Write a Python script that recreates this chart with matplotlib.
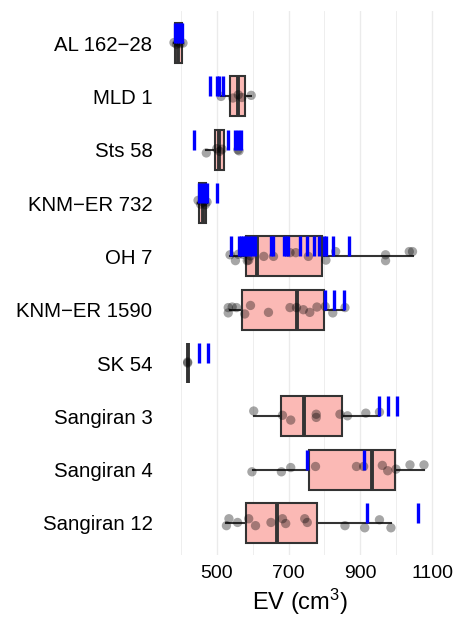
import matplotlib
matplotlib.use("Agg")
import matplotlib.pyplot as plt

plt.rcParams["font.family"] = ["Liberation Sans", "DejaVu Sans"]
plt.rcParams["mathtext.default"] = "regular"

names = ["AL 162\u221228", "MLD 1", "Sts 58", "KNM\u2212ER 732", "OH 7",
         "KNM\u2212ER 1590", "SK 54", "Sangiran 3", "Sangiran 4", "Sangiran 12"]

# box statistics
q1 = [384, 537, 494, 450, 581, 570, 419, 680, 758, 581]
med = [393, 558, 505, 461, 613, 724, 419, 743, 932, 668]
q3 = [404, 578, 521, 471, 793, 800, 419, 848, 997, 779]
whis_lo = [381, 512, 471, 448, 537, 537, 419, 603, 601, 527]
whis_hi = [406, 596, 521, 473, 1047, 853, 419, 951, 1077, 985]

# jittered sample points (value, vertical offset in rows)
pts_val = [
    [381, 388, 393, 398, 406],
    [512, 545, 560, 570, 596],
    [471, 500, 508, 515, 559, 562],
    [448, 455, 462, 468, 473],
    [537, 552, 560, 573, 585, 589, 594, 631, 658, 704, 720, 755, 804, 831,
     970, 970, 1036, 1045],
    [532, 532, 543, 555, 578, 594, 644, 704, 722, 741, 759, 779, 802, 823, 857],
    [419, 419],
    [603, 683, 706, 777, 777, 843, 864, 915, 953],
    [598, 680, 706, 775, 889, 909, 961, 976, 999, 1038, 1077],
    [527, 534, 558, 589, 608, 651, 683, 692, 745, 752, 857, 912, 953, 985],
]
pts_off = [
    [-0.01, 0.02, -0.02, 0.01, 0.0],
    [0.0, 0.03, -0.03, 0.02, -0.02],
    [0.06, -0.02, 0.03, -0.01, 0.0, 0.02],
    [-0.05, 0.02, -0.02, 0.03, -0.02],
    [-0.03, 0.08, -0.04, -0.04, 0.08, 0.07, -0.01, 0.0, 0.0, -0.07, -0.07,
     0.0, 0.07, -0.09, -0.03, 0.08, -0.09, -0.09],
    [-0.04, 0.06, -0.05, -0.04, 0.08, -0.08, 0.05, -0.04, -0.04, 0.0, 0.05,
     -0.05, -0.06, 0.06, -0.04],
    [-0.02, 0.0],
    [-0.10, -0.02, 0.07, -0.04, 0.02, -0.04, -0.01, -0.06, -0.08],
    [0.04, 0.04, -0.04, -0.06, -0.06, -0.06, -0.08, 0.02, -0.01, -0.09, -0.09],
    [0.05, -0.08, -0.01, -0.08, 0.05, -0.01, -0.08, 0.01, -0.08, -0.01, 0.05,
     0.09, -0.06, 0.09],
]

# published estimates (blue ticks)
blue_vals = [
    [385, 390, 395, 400, 404],
    [480, 500, 507, 518],
    [438, 532, 551, 559, 567],
    [452, 460, 467, 474, 502],
    [539, 561, 567, 572, 578, 585, 592, 598, 607, 651, 656, 686, 692, 699,
     732, 752, 772, 784, 798, 805, 825, 869],
    [802, 827, 853],
    [451, 476],
    [951, 976, 1001],
    [752, 909],
    [917, 1061],
]

major_ticks = [500, 700, 900, 1100]
minor_ticks = [400, 600, 800, 1000]

fig = plt.figure(figsize=(4.58, 6.17), dpi=100)
ax = fig.add_axes([0.354, 0.1005, 0.6, 0.8815])

for x in minor_ticks:
    ax.axvline(x, color="#EBEBEB", lw=0.6, zorder=0)
for x in major_ticks:
    ax.axvline(x, color="#EBEBEB", lw=1.0, zorder=0)

stats = []
for i in range(len(names)):
    stats.append(dict(q1=q1[i], med=med[i], q3=q3[i],
                      whislo=whis_lo[i], whishi=whis_hi[i], fliers=[]))

ax.bxp(stats, positions=range(len(names)), vert=False, widths=0.75,
       patch_artist=True, showcaps=False, showfliers=False,
       boxprops=dict(facecolor="#FBB9B5", edgecolor="#333333", lw=1.5),
       whiskerprops=dict(color="#333333", lw=1.5),
       medianprops=dict(color="#333333", lw=2.8, solid_capstyle="butt"),
       zorder=2)

for i in range(len(names)):
    ys = [i + o for o in pts_off[i]]
    ax.scatter(pts_val[i], ys, s=45, color="black", alpha=0.35,
               edgecolors="none", zorder=3)
    ax.vlines(blue_vals[i], i - 0.375, i, colors="#0000FF", lw=2.4, zorder=4)

ax.set_xlim(348, 1113)
ax.set_ylim(len(names) - 0.4, -0.6)
ax.set_yticks(range(len(names)))
ax.set_yticklabels(names)
ax.set_xticks(major_ticks)
ax.tick_params(axis="both", length=0, colors="black")
ax.tick_params(axis="y", pad=7, labelsize=14.7)
ax.tick_params(axis="x", pad=7, labelsize=14)
for s in ax.spines.values():
    s.set_visible(False)
ax.set_xlabel("EV (cm$^3$)", fontsize=17, labelpad=4)

fig.savefig("out.png", dpi=100)
